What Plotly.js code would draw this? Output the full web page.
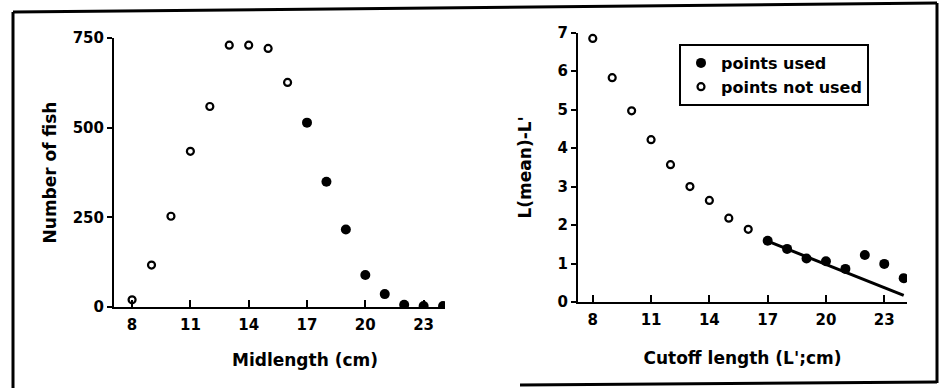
<!DOCTYPE html>
<html>
<head>
<meta charset="utf-8">
<script src="https://cdn.plot.ly/plotly-3.0.1.min.js"></script>
<style>
html,body{margin:0;padding:0;background:#fff;}
#chart{width:941px;height:388px;}
</style>
</head>
<body>
<div id="chart"></div>
<script>
// Left panel: length-frequency
const midlengthNotUsed = [8, 9, 10, 11, 12, 13, 14, 15, 16];
const countNotUsed     = [20, 117, 253, 434, 559, 730, 730, 721, 626];
const midlengthUsed    = [17, 18, 19, 20, 21, 22, 23, 24];
const countUsed        = [514, 349, 216, 89, 36, 6, 3, 3];

// Right panel: L(mean) - L' vs cutoff length
const cutoffNotUsed = [8, 9, 10, 11, 12, 13, 14, 15, 16];
const diffNotUsed   = [6.85, 5.83, 4.97, 4.22, 3.57, 3.00, 2.64, 2.18, 1.89];
const cutoffUsed    = [17, 18, 19, 20, 21, 22, 23, 24];
const diffUsed      = [1.59, 1.38, 1.13, 1.06, 0.86, 1.22, 0.99, 0.62];
const fitX = [17, 24];
const fitY = [1.58, 0.17];

const xTickVals = [8, 11, 14, 17, 20, 23];
const leftYTicks = [0, 250, 500, 750];
const rightYTicks = [0, 1, 2, 3, 4, 5, 6, 7];

const FONT = 'DejaVu Sans, sans-serif';
const W = 941, H = 388;
const px = v => v / W;
const py = v => 1 - v / H;

const openMarker = {symbol: 'circle-open', size: 7, color: '#000', line: {width: 2.2, color: '#000'}};
const fillMarker = {symbol: 'circle', size: 10, color: '#000'};
const titleFont = {family: FONT, size: 17, color: '#000', weight: 'bold'};

const data = [
  {x: cutoffUsed, y: diffUsed, xaxis: 'x2', yaxis: 'y2', type: 'scatter', mode: 'markers',
   name: 'points used', marker: fillMarker, showlegend: true},
  {x: cutoffNotUsed, y: diffNotUsed, xaxis: 'x2', yaxis: 'y2', type: 'scatter', mode: 'markers',
   name: 'points not used', marker: openMarker, showlegend: true},
  {x: fitX, y: fitY, xaxis: 'x2', yaxis: 'y2', type: 'scatter', mode: 'lines',
   line: {color: '#000', width: 3}, showlegend: false, hoverinfo: 'skip'},
  {x: midlengthNotUsed, y: countNotUsed, xaxis: 'x', yaxis: 'y', type: 'scatter', mode: 'markers',
   name: 'not used', marker: openMarker, showlegend: false},
  {x: midlengthUsed, y: countUsed, xaxis: 'x', yaxis: 'y', type: 'scatter', mode: 'markers',
   name: 'used', marker: fillMarker, showlegend: false}
];

const axisCommon = {
  showline: true, linecolor: '#000', linewidth: 2, showgrid: false, zeroline: false,
  tickcolor: '#000', tickwidth: 2, automargin: false, fixedrange: true,
  tickfont: {family: FONT, size: 15, color: '#000', weight: 'bold'}
};

const layout = {
  width: W, height: H,
  margin: {l: 0, r: 0, t: 0, b: 0},
  paper_bgcolor: '#fff', plot_bgcolor: '#fff',
  font: {family: FONT, color: '#000'},
  showlegend: true,
  legend: {
    x: px(679), y: py(44), xanchor: 'left', yanchor: 'top',
    bgcolor: '#fff', bordercolor: '#000', borderwidth: 2,
    font: {family: FONT, size: 16, color: '#000', weight: 'bold'},
    traceorder: 'normal'
  },
  xaxis: Object.assign({}, axisCommon, {
    domain: [px(114), px(445)], range: [7.07, 24.1], anchor: 'y',
    tickmode: 'array', tickvals: xTickVals, ticks: 'inside', ticklen: 7,
    ticklabelstandoff: 3
  }),
  yaxis: Object.assign({}, axisCommon, {
    domain: [1 - 307 / H, 1 - 38 / H], range: [0, 750], anchor: 'x',
    tickmode: 'array', tickvals: leftYTicks, ticks: 'outside', ticklen: 5,
    title: {text: 'Number of fish', font: titleFont, standoff: 12}
  }),
  xaxis2: Object.assign({}, axisCommon, {
    domain: [px(578), px(907)], range: [7.24, 24.17], anchor: 'y2',
    tickmode: 'array', tickvals: xTickVals, ticks: 'inside', ticklen: 7,
    ticklabelstandoff: 3,
    title: {text: "Cutoff length (L';cm)", font: titleFont, standoff: 24}
  }),
  yaxis2: Object.assign({}, axisCommon, {
    domain: [1 - 302 / H, 1 - 32.7 / H], range: [0, 7], anchor: 'x2',
    tickmode: 'array', tickvals: rightYTicks, ticks: 'outside', ticklen: 5,
    title: {text: "L(mean)-L'", font: titleFont, standoff: 22}
  }),
  annotations: [
    {text: 'Midlength (cm)', xref: 'paper', yref: 'paper', x: px(305), y: py(360),
     xanchor: 'center', yanchor: 'middle', showarrow: false, font: titleFont}
  ],
  shapes: [
    {type: 'line', xref: 'paper', yref: 'paper', x0: px(13), y0: py(12), x1: px(13), y1: 0, line: {color: '#000', width: 3}},
    {type: 'line', xref: 'paper', yref: 'paper', x0: px(13), y0: py(12), x1: px(937), y1: py(3), line: {color: '#000', width: 3}},
    {type: 'line', xref: 'paper', yref: 'paper', x0: px(937), y0: py(3), x1: px(937), y1: py(383), line: {color: '#000', width: 3}},
    {type: 'line', xref: 'paper', yref: 'paper', x0: px(520), y0: py(385), x1: px(937), y1: py(382), line: {color: '#000', width: 3}}
  ]
};

Plotly.newPlot('chart', data, layout, {displayModeBar: false, staticPlot: true});
</script>
</body>
</html>
